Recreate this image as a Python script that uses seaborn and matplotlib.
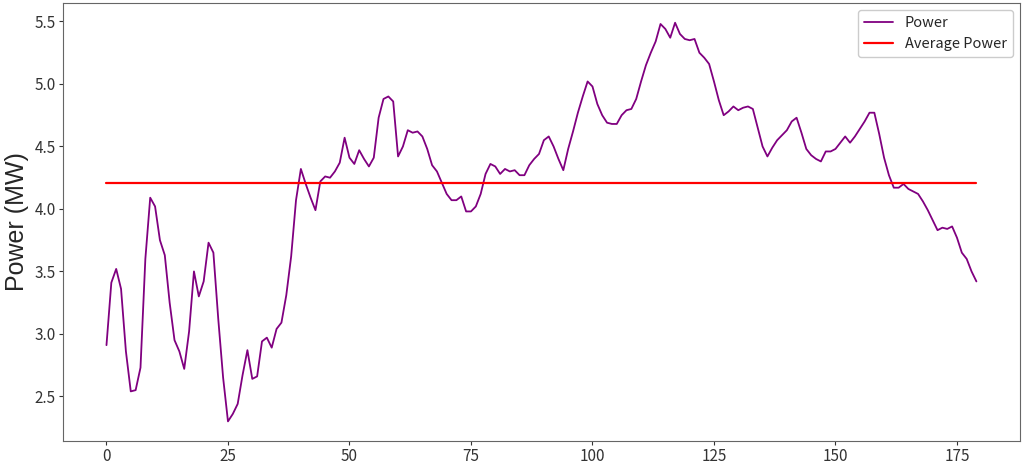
import numpy as np
import pandas as pd
import matplotlib
matplotlib.use("Agg")
import matplotlib.pyplot as plt
import seaborn as sns

# power readings (MW), one per time step
power = [
    2.91, 3.41, 3.52, 3.36, 2.86, 2.54, 2.55, 2.73, 3.60, 4.09,
    4.02, 3.75, 3.63, 3.25, 2.95, 2.86, 2.72, 3.02, 3.50, 3.30,
    3.42, 3.73, 3.65, 3.12, 2.65, 2.30, 2.36, 2.44, 2.67, 2.87,
    2.64, 2.66, 2.94, 2.97, 2.89, 3.04, 3.09, 3.31, 3.62, 4.07,
    4.32, 4.20, 4.09, 3.99, 4.22, 4.26, 4.25, 4.30, 4.37, 4.57,
    4.41, 4.36, 4.47, 4.40, 4.34, 4.41, 4.73, 4.88, 4.90, 4.86,
    4.42, 4.50, 4.63, 4.61, 4.62, 4.58, 4.48, 4.35, 4.30, 4.21,
    4.12, 4.07, 4.07, 4.10, 3.98, 3.98, 4.02, 4.12, 4.28, 4.36,
    4.34, 4.28, 4.32, 4.30, 4.31, 4.27, 4.27, 4.35, 4.40, 4.44,
    4.55, 4.58, 4.50, 4.40, 4.31, 4.48, 4.62, 4.77, 4.90, 5.02,
    4.98, 4.84, 4.75, 4.69, 4.68, 4.68, 4.75, 4.79, 4.80, 4.88,
    5.02, 5.15, 5.25, 5.34, 5.48, 5.44, 5.37, 5.49, 5.40, 5.36,
    5.35, 5.36, 5.25, 5.21, 5.16, 5.02, 4.87, 4.75, 4.78, 4.82,
    4.79, 4.81, 4.82, 4.80, 4.65, 4.50, 4.42, 4.49, 4.55, 4.59,
    4.63, 4.70, 4.73, 4.61, 4.48, 4.43, 4.40, 4.38, 4.46, 4.46,
    4.48, 4.53, 4.58, 4.53, 4.58, 4.64, 4.70, 4.77, 4.77, 4.60,
    4.41, 4.27, 4.17, 4.17, 4.20, 4.16, 4.14, 4.12, 4.06, 3.99,
    3.91, 3.83, 3.85, 3.84, 3.86, 3.77, 3.65, 3.60, 3.50, 3.42,
]
avg_power = 4.21
x_ticks = [0, 25, 50, 75, 100, 125, 150, 175]
y_ticks = [2.5, 3.0, 3.5, 4.0, 4.5, 5.0, 5.5]

df = pd.DataFrame({"t": np.arange(len(power)), "Power": power})
df["Average Power"] = avg_power

sns.set_style("ticks")
plt.rcParams["font.family"] = ["Noto Sans CJK SC", "DejaVu Sans"]

fig, ax = plt.subplots(figsize=(10.24, 4.67), dpi=100)
fig.subplots_adjust(left=0.0615, right=0.996, top=0.994, bottom=0.055)

sns.lineplot(data=df, x="t", y="Power", color="purple", linewidth=1.3,
             label="Power", ax=ax)
sns.lineplot(data=df, x="t", y="Average Power", color="red", linewidth=1.6,
             label="Average Power", ax=ax)

ax.set_xticks(x_ticks)
ax.set_yticks(y_ticks)
ax.tick_params(labelsize=11, colors="#333333", length=3, pad=2)
ax.set_xlabel("")
ax.set_ylabel("Power (MW)", fontsize=18, family="Liberation Sans")
for s in ax.spines.values():
    s.set_color("#666666")

ax.legend(loc="upper right", fontsize=10.5, framealpha=1, edgecolor="#cccccc")

plt.savefig("out.png", dpi=100)
